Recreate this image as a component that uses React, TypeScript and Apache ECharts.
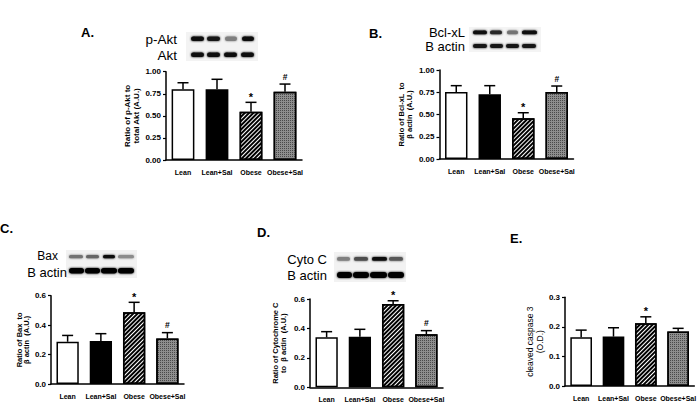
import React, { useEffect, useRef } from "react";
import * as echarts from "echarts";

const categories = ["Lean", "Lean+Sal", "Obese", "Obese+Sal"];

// Panel A: p-Akt / Akt
const aMeans = [0.8, 0.8, 0.547, 0.773];
const aErrTop = [0.875, 0.914, 0.653, 0.86];
const aMarks = ["", "", "*", "#"];
// Panel B: Bcl-xL / beta actin
const bMeans = [0.753, 0.727, 0.457, 0.753];
const bErrTop = [0.824, 0.824, 0.52, 0.82];
const bMarks = ["", "", "*", "#"];
// Panel C: Bax / beta actin
const cMeans = [0.287, 0.292, 0.487, 0.31];
const cErrTop = [0.33, 0.342, 0.555, 0.349];
const cMarks = ["", "", "*", "#"];
// Panel D: Cytochrome C / beta actin
const dMeans = [0.34, 0.344, 0.566, 0.36];
const dErrTop = [0.378, 0.394, 0.588, 0.385];
const dMarks = ["", "", "*", "#"];
// Panel E: cleaved caspase 3
const eMeans = [0.165, 0.167, 0.212, 0.184];
const eErrTop = [0.189, 0.197, 0.234, 0.195];
const eMarks = ["", "", "*", ""];

// blot band intensities (0 = white, 1 = black), per lane
const aBlotTop = [0.95, 0.9, 0.5, 0.95];
const aBlotBottom = [0.95, 0.95, 0.95, 0.95];
const bBlotTop = [0.95, 0.85, 0.55, 0.97];
const bBlotBottom = [0.9, 0.9, 0.9, 0.9];
const cBlotTop = [0.55, 0.6, 0.95, 0.45];
const cBlotBottom = [1, 1, 1, 1];
const dBlotTop = [0.5, 0.7, 0.95, 0.65];
const dBlotBottom = [1, 1, 1, 1];

const FONT = "Liberation Sans";

const barStyles = [
  { color: "#ffffff", borderColor: "#000", borderWidth: 1.5 },
  { color: "#000000", borderColor: "#000", borderWidth: 1.5 },
  {
    color: "#ffffff",
    borderColor: "#000",
    borderWidth: 1.5,
    decal: {
      symbol: "rect",
      symbolSize: 1,
      color: "#000",
      dashArrayX: [1, 0],
      dashArrayY: [1.5, 1],
      rotation: -Math.PI / 4,
    },
  },
  {
    color: "#8e8e8e",
    borderColor: "#000",
    borderWidth: 1.5,
    decal: {
      symbol: "rect",
      symbolSize: 1,
      color: "#4a4a4a",
      dashArrayX: [1, 1],
      dashArrayY: [1, 1],
      rotation: 0,
    },
  },
];

function shade(v: number) {
  const c = Math.round(255 * (1 - v));
  return `rgb(${c},${c},${c})`;
}

export default function App() {
  const ref = useRef<HTMLDivElement>(null);
  useEffect(() => {
    if (!ref.current) return;
    const chart = echarts.init(ref.current, null, { renderer: "svg" });

    const panels = [
      { means: aMeans, err: aErrTop, marks: aMarks, max: 1, interval: 0.25, dec: 2,
        grid: { left: 166, top: 71.7, width: 136, height: 88.3 },
        name: "Ratio of p-Akt to\ntotal Akt (A.U.)", nameGap: 22, nameSize: 8, nameLH: 9.5 },
      { means: bMeans, err: bErrTop, marks: bMarks, max: 1, interval: 0.25, dec: 2,
        grid: { left: 439.5, top: 70, width: 134, height: 89 },
        name: "Ratio of Bcl-xL  to\nβ actin  (A.U.)", nameGap: 26, nameSize: 7.5, nameLH: 8 },
      { means: cMeans, err: cErrTop, marks: cMarks, max: 0.6, interval: 0.2, dec: 1,
        grid: { left: 51, top: 295.7, width: 133, height: 88.3 },
        name: "Ratio of Bax  to\nβ actin  (A.U.)", nameGap: 11, nameSize: 7.5, nameLH: 7 },
      { means: dMeans, err: dErrTop, marks: dMarks, max: 0.6, interval: 0.2, dec: 1,
        grid: { left: 310, top: 299, width: 133, height: 88.3 },
        name: "Ratio of Cytochrome C\nto  β actin  (A.U.)", nameGap: 23, nameSize: 7.5, nameLH: 8 },
      { means: eMeans, err: eErrTop, marks: eMarks, max: 0.3, interval: 0.1, dec: 1,
        grid: { left: 565, top: 297.3, width: 130.5, height: 88.7 },
        name: "cleaved caspase 3\n(O.D.)", nameGap: 20, nameSize: 8.5, nameLH: 10, nameWeight: "normal" },
    ];

    const grid: any[] = [];
    const xAxis: any[] = [];
    const yAxis: any[] = [];
    const series: any[] = [];

    panels.forEach((p, k) => {
      grid.push({ ...p.grid, containLabel: false });
      xAxis.push({
        type: "category",
        gridIndex: k,
        data: categories,
        axisLine: { lineStyle: { color: "#000", width: 1.5 } },
        axisTick: { alignWithLabel: true, length: 4, lineStyle: { color: "#000", width: 1.2 } },
        axisLabel: { color: "#000", fontFamily: FONT, fontWeight: "bold", fontSize: 7, margin: 9, interval: 0 },
      });
      yAxis.push({
        type: "value",
        gridIndex: k,
        min: 0,
        max: p.max,
        interval: p.interval,
        splitLine: { show: false },
        axisLine: { show: true, lineStyle: { color: "#000", width: 1.5 } },
        axisTick: { show: true, length: 3, lineStyle: { color: "#000", width: 1.2 } },
        axisLabel: {
          color: "#000", fontFamily: FONT, fontWeight: "bold", fontSize: 8, margin: 5,
          formatter: (v: number) => v.toFixed(p.dec),
        },
        name: p.name,
        nameLocation: "middle",
        nameRotate: 90,
        nameGap: p.nameGap,
        nameTextStyle: {
          color: "#000", fontFamily: FONT, fontWeight: (p as any).nameWeight || "bold",
          fontSize: p.nameSize, lineHeight: p.nameLH, align: "center",
        },
      });
      series.push({
        type: "bar",
        xAxisIndex: k,
        yAxisIndex: k,
        barWidth: "67%",
        data: p.means.map((v, i) => ({ value: v, itemStyle: barStyles[i] })),
        z: 2,
      });
      const marks = p.marks;
      series.push({
        type: "custom",
        xAxisIndex: k,
        yAxisIndex: k,
        z: 3,
        data: p.means.map((v, i) => [i, v, p.err[i]]),
        encode: { x: 0, y: [1, 2] },
        renderItem: (params: any, api: any) => {
          const i = api.value(0);
          const base = api.coord([i, api.value(1)]);
          const top = api.coord([i, api.value(2)]);
          const half = 5.5;
          const children: any[] = [
            { type: "line", shape: { x1: base[0], y1: base[1], x2: top[0], y2: top[1] }, style: { stroke: "#000", lineWidth: 1.5 } },
            { type: "line", shape: { x1: top[0] - half, y1: top[1], x2: top[0] + half, y2: top[1] }, style: { stroke: "#000", lineWidth: 1.5 } },
          ];
          const m = marks[params.dataIndex];
          if (m) {
            children.push({
              type: "text",
              x: top[0],
              y: top[1] - (m === "*" ? 0 : 3),
              style: { text: m, fill: "#000", font: `bold ${m === "*" ? 11 : 8.5}px ${FONT}`, align: "center", verticalAlign: "bottom" },
            });
          }
          return { type: "group", children };
        },
      });
    });

    const graphic: any[] = [];
    const letter = (t: string, x: number, y: number) =>
      graphic.push({ type: "text", x, y, style: { text: t, fill: "#000", font: `bold 13px ${FONT}` } });
    letter("A.", 81, 26);
    letter("B.", 369, 27);
    letter("C.", 0, 222);
    letter("D.", 257, 226);
    letter("E.", 510, 232);

    const blotLabel = (t: string, right: number, cy: number, size = 13) =>
      graphic.push({ type: "text", x: right, y: cy, style: { text: t, fill: "#000", font: `${size}px ${FONT}`, align: "right", verticalAlign: "middle" } });

    const blot = (lanes: number[][], vals: number[], y: number, h: number) => {
      lanes.forEach(([x0, x1], i) => {
        const col = shade(vals[i]);
        graphic.push({
          type: "rect",
          shape: { x: x0, y, width: x1 - x0, height: h, r: h / 2 },
          style: { fill: col, shadowBlur: 2.5, shadowColor: col },
        });
      });
    };

    // Panel A blots
    graphic.push({ type: "rect", shape: { x: 186, y: 32, width: 72, height: 29 }, style: { fill: "#f3f3f3" } });
    blotLabel("p-Akt", 177, 39, 13.5);
    blotLabel("Akt", 177, 55, 13.5);
    blot([[191, 204], [207, 220], [225, 237], [242, 254]], aBlotTop, 36.5, 4.5);
    blot([[191, 204], [207, 220], [224, 237], [241, 254]], aBlotBottom, 52.5, 4.5);

    // Panel B blots
    graphic.push({ type: "rect", shape: { x: 469, y: 27, width: 72, height: 25 }, style: { fill: "#f4f4f4" } });
    blotLabel("Bcl-xL", 465, 32);
    blotLabel("B actin", 465, 46);
    blot([[473, 487], [490, 502], [507, 518], [522, 537]], bBlotTop, 30.5, 3.8);
    blot([[473, 487], [490, 503], [506, 519], [522, 536]], bBlotBottom, 44, 4);

    // Panel C blots
    graphic.push({ type: "rect", shape: { x: 66, y: 250, width: 71, height: 28 }, style: { fill: "#f2f2f2" } });
    blotLabel("Bax", 58, 256, 12);
    blotLabel("B actin", 67, 272.5);
    blot([[69, 83], [86, 99], [103, 115], [118, 134]], cBlotTop, 255, 3.3);
    blot([[69, 84], [85, 100], [101, 117], [118, 134]], cBlotBottom, 268, 5.5);

    // Panel D blots
    graphic.push({ type: "rect", shape: { x: 334, y: 252, width: 72, height: 30 }, style: { fill: "#f2f2f2" } });
    blotLabel("Cyto C", 327, 259);
    blotLabel("B actin", 327, 275);
    blot([[337, 350], [354, 368], [372, 387], [389, 403]], dBlotTop, 257, 3.8);
    blot([[337, 352], [353, 369], [370, 387], [388, 404]], dBlotBottom, 272, 6);

    chart.setOption({
      animation: false,
      backgroundColor: "#fff",
      grid,
      xAxis,
      yAxis,
      series,
      graphic,
    });
    return () => chart.dispose();
  }, []);

  return (
    <div
      ref={ref}
      style={{ position: "fixed", left: 0, top: 0, width: 699, height: 406, background: "#fff" }}
    />
  );
}
